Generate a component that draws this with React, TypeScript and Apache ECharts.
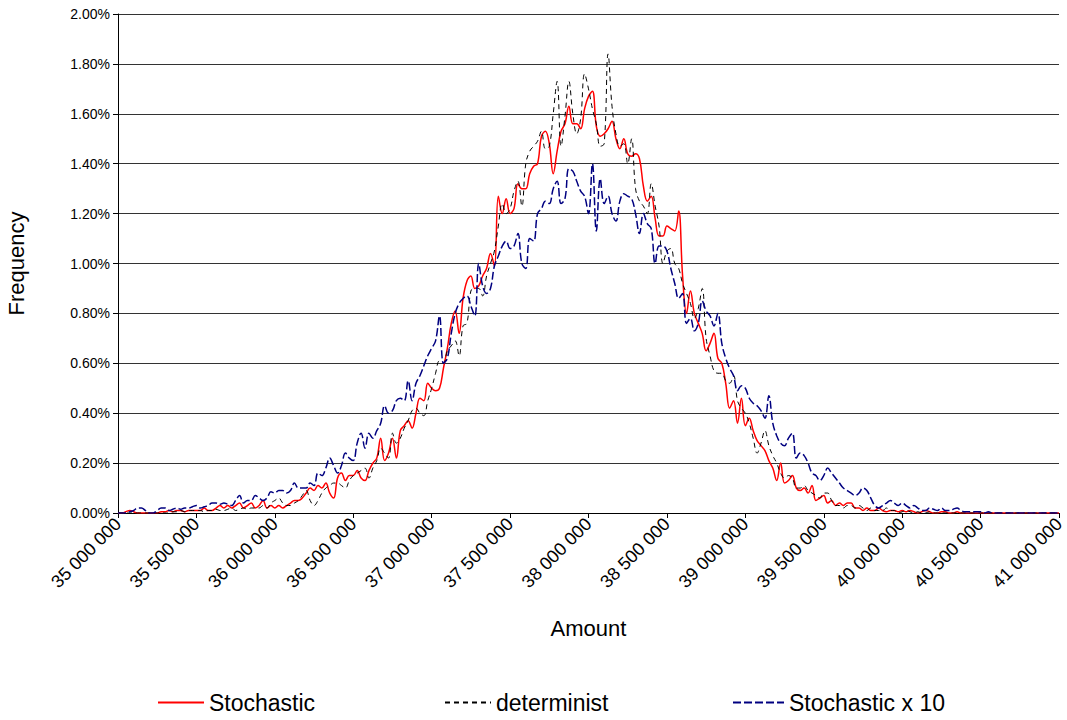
import React, { useEffect, useRef } from "react";
import * as echarts from "echarts";

const START = 35000000;
const STEP = 25000;

const X_MIN = 35000000;
const X_MAX = 41000000;
const X_INTERVAL = 500000;
const Y_MIN = 0;
const Y_MAX = 2;
const Y_INTERVAL = 0.2;

const SERIES_NAMES = ["Stochastic", "determinist", "Stochastic x 10"];

// Frequency in percent, one value per 25 000 bin starting at 35 000 000
const stochastic = [
  0, 0, 0.005, 0.01, 0.005, 0, 0, 0, 0, 0, 0, 0.005, 0.005, 0.01, 0.005, 0.01, 0.01, 0.005, 0.01, 0.01,
  0.01, 0.01, 0.02, 0.01, 0.01, 0.02, 0.03, 0.02, 0.03, 0.02, 0.03, 0.04, 0.02, 0.03, 0.04, 0.02, 0.03, 0.05, 0.02, 0.03,
  0.02, 0.03, 0.02, 0.03, 0.04, 0.05, 0.05, 0.06, 0.08, 0.1, 0.09, 0.11, 0.1, 0.12, 0.08, 0.06, 0.14, 0.16, 0.13, 0.15,
  0.15, 0.17, 0.14, 0.13, 0.17, 0.2, 0.22, 0.3, 0.21, 0.24, 0.3, 0.22, 0.33, 0.35, 0.37, 0.34, 0.4, 0.46, 0.45, 0.52,
  0.5, 0.49, 0.5, 0.58, 0.66, 0.76, 0.81, 0.72, 0.86, 0.93, 0.95, 0.9, 0.91, 0.95, 0.98, 1.04, 0.99, 1.27, 1.2, 1.26,
  1.2, 1.22, 1.32, 1.3, 1.3, 1.36, 1.39, 1.4, 1.51, 1.53, 1.48, 1.36, 1.45, 1.53, 1.56, 1.63, 1.56, 1.56, 1.54, 1.62,
  1.67, 1.69, 1.55, 1.51, 1.52, 1.54, 1.57, 1.5, 1.46, 1.5, 1.44, 1.43, 1.44, 1.42, 1.31, 1.25, 1.27, 1.18, 1.11, 1.11,
  1.15, 1.14, 1.13, 1.21, 0.95, 0.8, 0.89, 0.8, 0.76, 0.72, 0.65, 0.68, 0.72, 0.62, 0.6, 0.52, 0.42, 0.45, 0.36, 0.46,
  0.35, 0.38, 0.33, 0.29, 0.27, 0.25, 0.21, 0.18, 0.13, 0.2, 0.12, 0.13, 0.15, 0.1, 0.09, 0.1, 0.08, 0.11, 0.05, 0.06,
  0.07, 0.04, 0.05, 0.03, 0.04, 0.03, 0.04, 0.04, 0.02, 0.02, 0.01, 0.02, 0.01, 0.01, 0.02, 0.01, 0.005, 0.01, 0.01, 0.005,
  0.01, 0.005, 0.01, 0.005, 0, 0.005, 0.01, 0.005, 0, 0, 0.005, 0.005, 0, 0, 0.005, 0, 0, 0, 0, 0,
  0, 0, 0, 0, 0, 0, 0, 0, 0, 0, 0, 0, 0, 0, 0, 0, 0, 0, 0, 0, 0,
];

const determinist = [
  0, 0, 0, 0, 0, 0, 0, 0, 0, 0, 0, 0, 0, 0, 0.005, 0.005, 0.01, 0.005, 0.01, 0.01,
  0.01, 0.01, 0.005, 0.01, 0.01, 0.015, 0.01, 0.01, 0.015, 0.02, 0.01, 0.015, 0.02, 0.015, 0.02, 0.02, 0.02, 0.03, 0.02, 0.04,
  0.05, 0.06, 0.04, 0.03, 0.03, 0.04, 0.05, 0.07, 0.09, 0.05, 0.03, 0.05, 0.08, 0.1, 0.11, 0.12, 0.12, 0.11, 0.1, 0.13,
  0.15, 0.16, 0.17, 0.18, 0.14, 0.18, 0.21, 0.26, 0.24, 0.22, 0.32, 0.28, 0.3, 0.34, 0.37, 0.41, 0.42, 0.4, 0.39, 0.45,
  0.5, 0.56, 0.61, 0.6, 0.65, 0.67, 0.69, 0.63, 0.75, 0.76, 0.89, 0.9, 0.9, 0.87, 0.95, 1.0, 1.05, 1.15, 1.24, 1.2,
  1.22, 1.29, 1.33, 1.23, 1.4, 1.45, 1.47, 1.49, 1.53, 1.46, 1.47, 1.6, 1.73, 1.47, 1.59, 1.73, 1.6, 1.52, 1.58, 1.76,
  1.7, 1.62, 1.56, 1.47, 1.48, 1.84, 1.63, 1.52, 1.47, 1.48, 1.4, 1.5, 1.3, 1.25, 1.23, 1.2, 1.32, 1.23, 1.15, 1.0,
  1.05, 1.06, 1.0, 0.98, 0.92, 0.88, 0.84, 0.78, 0.82, 0.9, 0.7, 0.63, 0.57, 0.56, 0.56, 0.53, 0.52, 0.55, 0.45, 0.42,
  0.4, 0.36, 0.3, 0.24, 0.28, 0.33, 0.27, 0.23, 0.2, 0.16, 0.14, 0.15, 0.14, 0.1, 0.1, 0.11, 0.09, 0.08, 0.07, 0.06,
  0.08, 0.08, 0.05, 0.03, 0.03, 0.02, 0.03, 0.03, 0.02, 0.03, 0.02, 0.01, 0.02, 0.01, 0.01, 0.01, 0.02, 0.01, 0.01, 0,
  0.005, 0.01, 0.005, 0, 0.005, 0, 0, 0.005, 0, 0, 0, 0, 0, 0, 0, 0, 0, 0, 0, 0,
  0, 0, 0, 0, 0, 0, 0, 0, 0, 0, 0, 0, 0, 0, 0, 0, 0, 0, 0, 0, 0,
];

const stochasticX10 = [
  0, 0, 0, 0.005, 0.01, 0.02, 0.02, 0.01, 0, 0, 0.01, 0.02, 0.02, 0.01, 0.015, 0.02, 0.015, 0.02, 0.02, 0.025,
  0.03, 0.02, 0.025, 0.03, 0.04, 0.04, 0.035, 0.04, 0.035, 0.03, 0.05, 0.07, 0.04, 0.05, 0.05, 0.07, 0.06, 0.05, 0.06, 0.085,
  0.08, 0.09, 0.09, 0.08, 0.09, 0.12, 0.1, 0.1, 0.1, 0.12, 0.11, 0.16, 0.15, 0.18, 0.22, 0.19, 0.16, 0.19, 0.24, 0.22,
  0.21, 0.28, 0.32, 0.26, 0.32, 0.3, 0.33, 0.36, 0.43, 0.4, 0.41, 0.45, 0.46, 0.45, 0.53, 0.45, 0.52, 0.55, 0.59, 0.63,
  0.66, 0.69, 0.79, 0.6, 0.62, 0.72, 0.8, 0.84, 0.86, 0.87, 0.83, 0.79, 1.0, 0.91, 0.88, 0.9, 0.99, 1.03, 1.07, 1.09,
  1.06, 1.07, 1.12, 1.0, 0.98, 1.1, 1.09, 1.2, 1.22, 1.25, 1.24, 1.3, 1.33, 1.24, 1.26, 1.38, 1.37, 1.33, 1.29, 1.27,
  1.2, 1.4, 1.13, 1.34, 1.24, 1.27, 1.2, 1.17, 1.25, 1.28, 1.27, 1.26, 1.2, 1.12, 1.2, 1.16, 1.14, 1.0, 1.07, 1.07,
  1.05, 0.98, 0.92, 0.86, 0.88, 0.76, 0.78, 0.73, 0.76, 0.85, 0.81, 0.79, 0.75, 0.8, 0.68, 0.62, 0.58, 0.55, 0.49, 0.51,
  0.5, 0.46, 0.44, 0.43, 0.41, 0.38, 0.47, 0.36, 0.31, 0.28, 0.27, 0.3, 0.32, 0.22, 0.24, 0.23, 0.2, 0.16, 0.15, 0.13,
  0.15, 0.18, 0.16, 0.14, 0.12, 0.1, 0.09, 0.08, 0.07, 0.08, 0.1, 0.09, 0.06, 0.03, 0.02, 0.03, 0.04, 0.05, 0.04, 0.03,
  0.04, 0.03, 0.02, 0.03, 0.02, 0.01, 0.01, 0.02, 0.015, 0.01, 0.02, 0.01, 0.01, 0.015, 0.02, 0.01, 0.005, 0.005, 0.005, 0.005,
  0.005, 0, 0.005, 0, 0, 0, 0, 0, 0, 0, 0, 0, 0, 0, 0, 0, 0, 0, 0, 0, 0,
];

const toPairs = (vals: number[]) => vals.map((v, i) => [START + i * STEP, v]);

const fmtAmount = (v: number) =>
  String(Math.round(v)).replace(/\B(?=(\d{3})+(?!\d))/g, " ");

const FONT = "'Liberation Sans', Arial, sans-serif";

export default function App() {
  const ref = useRef<HTMLDivElement>(null);

  useEffect(() => {
    if (!ref.current) return;
    const chart = echarts.init(ref.current, null, { renderer: "svg" });
    const legendBase = {
      orient: "horizontal",
      top: 686,
      itemHeight: 14,
      textStyle: { fontFamily: FONT, fontSize: 23, color: "#000" },
      itemStyle: { opacity: 0 },
      selectedMode: false,
    };
    chart.setOption({
      animation: false,
      backgroundColor: "#fff",
      textStyle: { fontFamily: FONT },
      grid: {
        left: 118,
        right: 8,
        top: 14,
        bottom: 207,
        containLabel: false,
        outerBoundsMode: "none",
      },
      legend: [
        { ...legendBase, data: [SERIES_NAMES[0]], left: 152, itemWidth: 46 },
        { ...legendBase, data: [SERIES_NAMES[1]], left: 439, itemWidth: 46 },
        { ...legendBase, data: [SERIES_NAMES[2]], left: 727, itemWidth: 51 },
      ],
      xAxis: {
        type: "value",
        min: X_MIN,
        max: X_MAX,
        interval: X_INTERVAL,
        name: "Amount",
        nameLocation: "middle",
        nameGap: 104,
        nameTextStyle: { fontFamily: FONT, fontSize: 22, color: "#000" },
        axisLine: { show: true, lineStyle: { color: "#000", width: 1 } },
        axisTick: { show: true, length: 5, lineStyle: { color: "#000" } },
        axisLabel: {
          rotate: 45,
          fontFamily: FONT,
          fontSize: 18,
          color: "#000",
          margin: 8,
          formatter: (v: number) => fmtAmount(v),
        },
        splitLine: { show: false },
      },
      yAxis: {
        type: "value",
        min: Y_MIN,
        max: Y_MAX,
        interval: Y_INTERVAL,
        name: "Frequency",
        nameLocation: "middle",
        nameGap: 91,
        nameTextStyle: { fontFamily: FONT, fontSize: 22, color: "#000" },
        axisLine: { show: true, lineStyle: { color: "#000", width: 1 } },
        axisTick: { show: true, length: 5, lineStyle: { color: "#000" } },
        axisLabel: {
          fontFamily: FONT,
          fontSize: 14,
          color: "#000",
          margin: 8,
          formatter: (v: number) => v.toFixed(2) + "%",
        },
        splitLine: { show: true, lineStyle: { color: "#333", width: 1 } },
      },
      series: [
        {
          name: SERIES_NAMES[0],
          type: "line",
          data: toPairs(stochastic),
          symbol: "none",
          smooth: 0.4,
          lineStyle: { color: "#ff0000", width: 1.5 },
          itemStyle: { color: "#ff0000" },
        },
        {
          name: SERIES_NAMES[1],
          type: "line",
          data: toPairs(determinist),
          symbol: "none",
          smooth: 0.4,
          lineStyle: { color: "#000", width: 1, type: [5, 4] },
          itemStyle: { color: "#000" },
        },
        {
          name: SERIES_NAMES[2],
          type: "line",
          data: toPairs(stochasticX10),
          symbol: "none",
          smooth: 0.4,
          lineStyle: { color: "#000080", width: 1.5, type: [8, 3] },
          itemStyle: { color: "#000080" },
        },
      ],
    });
    return () => chart.dispose();
  }, []);

  return (
    <div
      ref={ref}
      style={{ position: "fixed", left: 0, top: 0, width: 1067, height: 720, background: "#fff" }}
    />
  );
}
